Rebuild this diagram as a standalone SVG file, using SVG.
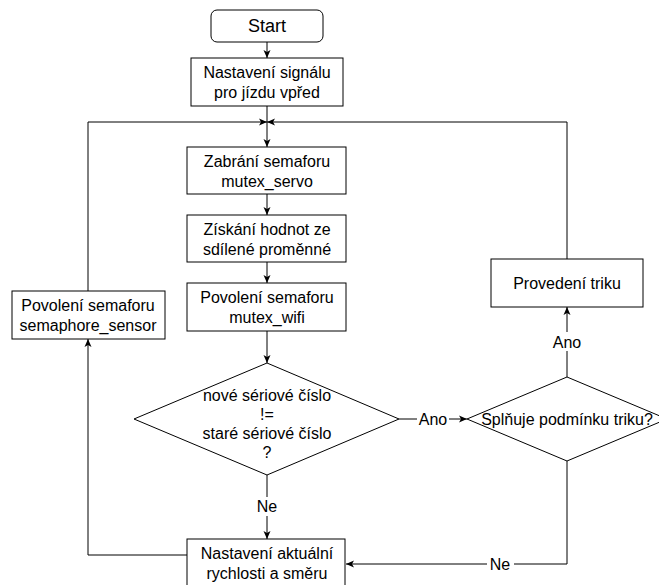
<svg xmlns="http://www.w3.org/2000/svg" width="659" height="585" viewBox="0 0 659 585">
  <style>
    .box { fill: #ffffff; stroke: #000000; stroke-width: 1; }
    .edge { fill: none; stroke: #000000; stroke-width: 1; }
    text { font-family: "Liberation Sans", Arial, Helvetica, sans-serif; font-size: 16px; fill: #000000; text-anchor: middle; }
    .title { font-size: 18px; }
    .lblbg { fill: #ffffff; stroke: none; }
  </style>
  <defs>
    <marker id="arrow" markerUnits="userSpaceOnUse" markerWidth="10" markerHeight="10" viewBox="0 0 10 10" refX="9" refY="5" orient="auto">
      <path d="M1,1.5 L9,5 L1,8.5 L3,5 Z" fill="#000000"/>
    </marker>
  </defs>

  <rect width="659" height="585" fill="#ffffff"/>

  <!-- connectors -->
  <g id="edges">
    <path class="edge" d="M267,42 L267,58" marker-end="url(#arrow)"/>
    <path class="edge" d="M267,106 L267,147" marker-end="url(#arrow)"/>
    <path class="edge" d="M88,291 L88,122 L267,122" marker-end="url(#arrow)"/>
    <path class="edge" d="M567,259 L567,122 L267,122" marker-end="url(#arrow)"/>
    <path class="edge" d="M267,194 L267,215" marker-end="url(#arrow)"/>
    <path class="edge" d="M267,262 L267,283" marker-end="url(#arrow)"/>
    <path class="edge" d="M267,331 L267,363" marker-end="url(#arrow)"/>
    <path class="edge" d="M267,475 L267,539" marker-end="url(#arrow)"/>
    <path class="edge" d="M399,419 L467,419" marker-end="url(#arrow)"/>
    <path class="edge" d="M567,377 L567,307" marker-end="url(#arrow)"/>
    <path class="edge" d="M567,461 L567,564 L346,564" marker-end="url(#arrow)"/>
    <path class="edge" d="M187,555 L88,555 L88,339" marker-end="url(#arrow)"/>

    <!-- edge labels -->
    <rect class="lblbg" x="254" y="497" width="26" height="19"/>
    <text x="267" y="512">Ne</text>
    <rect class="lblbg" x="417" y="410" width="32" height="19"/>
    <text x="433" y="425">Ano</text>
    <rect class="lblbg" x="551" y="332" width="32" height="19"/>
    <text x="567" y="348">Ano</text>
    <rect class="lblbg" x="487" y="555" width="27" height="19"/>
    <text x="500" y="570">Ne</text>
  </g>

  <!-- nodes -->
  <g id="start">
    <rect class="box" x="211" y="10" width="112" height="32" rx="6" ry="6"/>
    <text class="title" x="267" y="32">Start</text>
  </g>
  <g id="signal">
    <rect class="box" x="191" y="58" width="152" height="48"/>
    <text x="267" y="78">Nastavení signálu</text>
    <text x="267" y="98">pro jízdu vpřed</text>
  </g>
  <g id="take-servo">
    <rect class="box" x="187" y="147" width="159" height="47"/>
    <text x="267" y="167">Zabrání semaforu</text>
    <text x="267" y="187">mutex_servo</text>
  </g>
  <g id="read-shared">
    <rect class="box" x="187" y="215" width="159" height="47"/>
    <text x="267" y="235">Získání hodnot ze</text>
    <text x="267" y="255">sdílené proměnné</text>
  </g>
  <g id="give-wifi">
    <rect class="box" x="187" y="283" width="159" height="48"/>
    <text x="267" y="303">Povolení semaforu</text>
    <text x="267" y="323">mutex_wifi</text>
  </g>
  <g id="give-sensor">
    <rect class="box" x="12" y="291" width="153" height="48"/>
    <text x="88" y="311">Povolení semaforu</text>
    <text x="88" y="331">semaphore_sensor</text>
  </g>
  <g id="serial-check">
    <polygon class="box" points="267,363 399,419 267,475 134,419"/>
    <text x="267" y="401">nové sériové číslo</text>
    <text x="267" y="420">!=</text>
    <text x="267" y="439">staré sériové číslo</text>
    <text x="267" y="458">?</text>
  </g>
  <g id="trick-check">
    <polygon class="box" points="567,377 667,419 567,461 467,419"/>
    <text x="567" y="425">Splňuje podmínku triku?</text>
  </g>
  <g id="trick">
    <rect class="box" x="491" y="259" width="152" height="48"/>
    <text x="567" y="289">Provedení triku</text>
  </g>
  <g id="set-speed">
    <rect class="box" x="187" y="539" width="158" height="48"/>
    <text x="267" y="559">Nastavení aktuální</text>
    <text x="267" y="579">rychlosti a směru</text>
  </g>
</svg>
